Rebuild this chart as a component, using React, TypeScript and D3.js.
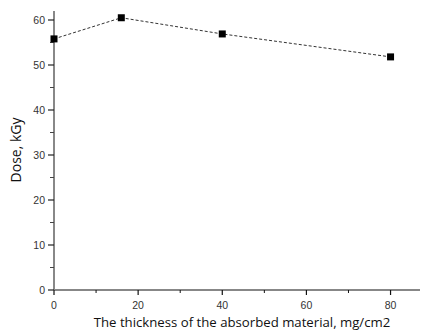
import React, { useEffect, useRef } from 'react';
import * as d3 from 'd3';

const thickness = [0, 16, 40, 80];
const dose = [55.8, 60.5, 56.9, 51.8];
const xTicks = [0, 20, 40, 60, 80];
const xMinor = [10, 30, 50, 70];
const yTicks = [0, 10, 20, 30, 40, 50, 60];
const yMinor = [5, 15, 25, 35, 45, 55];

export default function App() {
  const svgRef = useRef<SVGSVGElement>(null);

  useEffect(() => {
    const svg = d3.select(svgRef.current);
    svg.selectAll('*').remove();

    const x = d3.scaleLinear().domain([0, 87]).range([54, 420]);
    const y = d3.scaleLinear().domain([0, 62]).range([290, 11]);

    // x axis
    const gx = svg.append('g').attr('transform', `translate(0,${y(0)})`);
    gx.append('line').attr('x1', x(0)).attr('x2', x(87)).attr('stroke', '#111').attr('stroke-width', 1.2);
    gx.selectAll('.maj').data(xTicks).join('line')
      .attr('x1', d => x(d)).attr('x2', d => x(d)).attr('y1', 0).attr('y2', 5)
      .attr('stroke', '#111').attr('stroke-width', 1.2);
    gx.selectAll('.min').data(xMinor).join('line')
      .attr('x1', d => x(d)).attr('x2', d => x(d)).attr('y1', 0).attr('y2', 3)
      .attr('stroke', '#111').attr('stroke-width', 1);
    gx.selectAll('text').data(xTicks).join('text')
      .attr('x', d => x(d)).attr('y', 19).attr('text-anchor', 'middle')
      .attr('font-family', 'Liberation Sans, Arial, sans-serif').attr('font-size', 10.5)
      .attr('fill', '#333').text(d => d);

    // y axis
    const gy = svg.append('g').attr('transform', `translate(${x(0)},0)`);
    gy.append('line').attr('y1', y(0)).attr('y2', y(62)).attr('stroke', '#888').attr('stroke-width', 2);
    gy.selectAll('.maj').data(yTicks).join('line')
      .attr('y1', d => y(d)).attr('y2', d => y(d)).attr('x1', -6).attr('x2', 0)
      .attr('stroke', '#222').attr('stroke-width', 1.2);
    gy.selectAll('.min').data(yMinor).join('line')
      .attr('y1', d => y(d)).attr('y2', d => y(d)).attr('x1', -4).attr('x2', 0)
      .attr('stroke', '#444').attr('stroke-width', 1);
    gy.selectAll('text').data(yTicks).join('text')
      .attr('x', -9).attr('y', d => y(d)).attr('dy', '0.35em').attr('text-anchor', 'end')
      .attr('font-family', 'Liberation Sans, Arial, sans-serif').attr('font-size', 10.5)
      .attr('fill', '#333').text(d => d);

    // line and markers
    const pts = thickness.map((t, i) => [t, dose[i]] as [number, number]);
    const line = d3.line<[number, number]>().x(d => x(d[0])).y(d => y(d[1]));
    svg.append('path').datum(pts).attr('d', line).attr('fill', 'none')
      .attr('stroke', '#333').attr('stroke-width', 1).attr('stroke-dasharray', '3,2');
    svg.selectAll('.pt').data(pts).join('rect')
      .attr('x', d => x(d[0]) - 3.5).attr('y', d => y(d[1]) - 3.5)
      .attr('width', 7).attr('height', 7).attr('fill', '#000');

    // titles
    svg.append('text').attr('x', 242).attr('y', 327).attr('text-anchor', 'middle')
      .attr('font-family', 'Open Sans, DejaVu Sans, sans-serif').attr('font-size', 13.2)
      .attr('fill', '#111').text('The thickness of the absorbed material, mg/cm2');
    svg.append('text').attr('transform', 'translate(21,150) rotate(-90)')
      .attr('text-anchor', 'middle')
      .attr('font-family', 'Open Sans, DejaVu Sans, sans-serif').attr('font-size', 14)
      .attr('fill', '#111').text('Dose, kGy');
  }, []);

  return (
    <svg ref={svgRef} width={421} height={331}
      style={{ position: 'absolute', left: 0, top: 0, background: '#fff' }} />
  );
}
